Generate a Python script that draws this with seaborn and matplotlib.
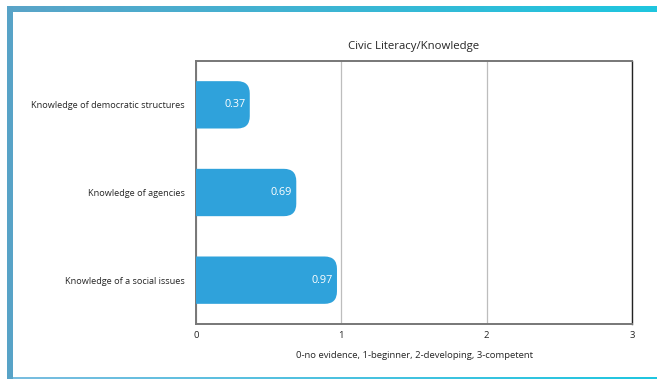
import numpy as np
import pandas as pd
import matplotlib
matplotlib.use("Agg")
import matplotlib.pyplot as plt
import seaborn as sns
from matplotlib.patches import FancyBboxPatch, Rectangle
from matplotlib.colors import LinearSegmentedColormap

categories = ["Knowledge of democratic structures", "Knowledge of agencies", "Knowledge of a social issues"]
values = [0.37, 0.69, 0.97]
value_labels = ["0.37", "0.69", "0.97"]
x_ticks = [0, 1, 2, 3]

title = "Civic Literacy/Knowledge"
xlabel = "0-no evidence, 1-beginner, 2-developing, 3-competent"

sns.set_theme(style="white")
plt.rcParams["font.family"] = ["Open Sans", "DejaVu Sans"]

W, H = 657, 381
fig = plt.figure(figsize=(W / 100, H / 100), dpi=100)
fig.patch.set_facecolor("white")

# decorative frame
bg = fig.add_axes([0, 0, 1, 1], zorder=0)
bg.axis("off")
grad = np.linspace(0, 1, 256).reshape(1, -1)
cmap = LinearSegmentedColormap.from_list("frame", ["#5aa4c8", "#1fc6df"])
bg.imshow(grad, cmap=cmap, extent=[7, W, 12, 6], aspect="auto")
bg.imshow(grad, cmap=LinearSegmentedColormap.from_list("f2", ["#7bbde0", "#1fc6df"]),
          extent=[7, W, 379.5, 377.5], aspect="auto")
bg.add_patch(Rectangle((7, 6), 6, 373, color="#58a3c7", lw=0))
bg.set_xlim(0, W)
bg.set_ylim(H, 0)

bar_color = "#2fa2db"
df = pd.DataFrame({"category": categories, "value": values})
ax_l, ax_r, ax_t, ax_b = 196, 632, 61, 324
ax = fig.add_axes([ax_l / W, 1 - ax_b / H, (ax_r - ax_l) / W, (ax_b - ax_t) / H], zorder=1)
sns.barplot(data=df, x="value", y="category", color=bar_color, width=0.54,
            saturation=1, ax=ax, orient="h")

ax.set_xlim(0, 3)
ax.set_ylim(2.5, -0.5)

# rounded bars: replace rectangles with rounded patches
x_per_px = 3.0 / (ax_r - ax_l)
y_per_px = 3.0 / (ax_b - ax_t)
for p, lab in zip(list(ax.patches), value_labels):
    x0, y0 = p.get_x(), p.get_y()
    w, h = p.get_width(), p.get_height()
    p.set_visible(False)
    fb = FancyBboxPatch((x0 - 0.2, y0), w + 0.2, h,
                        boxstyle="round,pad=0,rounding_size=0.085",
                        mutation_aspect=y_per_px / x_per_px,
                        facecolor=bar_color, edgecolor="none", zorder=3, clip_on=True)
    ax.add_patch(fb)
    ax.annotate(lab, xy=(x0 + w, y0 + h / 2), xytext=(-3, 0), textcoords="offset points",
                ha="right", va="center", color="white", fontsize=7.8, zorder=4)

ax.set_xticks(x_ticks)
ax.set_xticklabels([str(t) for t in x_ticks], fontsize=6.8)
ax.tick_params(axis="y", labelsize=6.6, length=0, pad=8)
ax.tick_params(axis="x", length=0, pad=5)
ax.xaxis.grid(True, color="#bdbdbd", lw=0.9)
ax.set_axisbelow(True)
ax.set_ylabel("")
ax.set_xlabel(xlabel, fontsize=6.8, labelpad=8)
ax.set_title(title, fontsize=8.2, pad=9)
for s in ["left", "bottom", "top"]:
    ax.spines[s].set_color("#777777")
    ax.spines[s].set_linewidth(1.4)
ax.spines["right"].set_color("#222222")
ax.spines["right"].set_linewidth(1.0)

fig.savefig("out.png", dpi=100)
